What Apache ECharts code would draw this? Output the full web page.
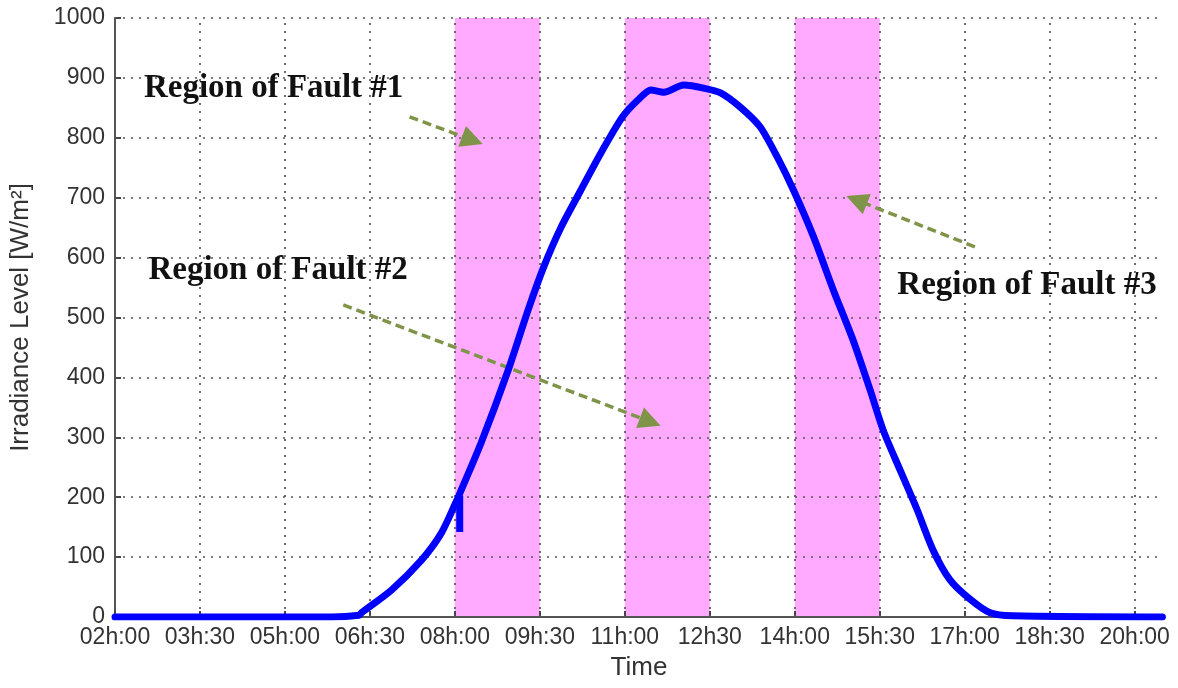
<!DOCTYPE html>
<html><head><meta charset="utf-8">
<script src="https://cdn.jsdelivr.net/npm/echarts@6/dist/echarts.min.js"></script>
<style>html,body{margin:0;padding:0;background:#fff}#c{width:1178px;height:688px}</style>
</head><body><div id="c"></div>
<script>
// ---- data ----
const tickLabels = ['02h:00','03h:30','05h:00','06h:30','08h:00','09h:30','11h:00','12h30','14h:00','15h:30','17h:00','18h:30','20h:00'];
const timeHours = [2.0, 5.82, 6.31, 6.35, 6.88, 7.41, 7.76, 8.02, 8.09, 8.46, 8.94, 9.29, 9.57, 9.87, 10.22, 10.58, 10.96, 11.23, 11.46, 11.69, 12.04, 12.39, 12.69, 13.04, 13.39, 13.69, 13.98, 14.33, 14.68, 15.03, 15.33, 15.56, 15.86, 16.16, 16.44, 16.74, 17.09, 17.45, 17.85, 20.49];
const irradiance = [0, 0, 3, 7, 45, 95, 140, 192, 207, 290, 412, 512, 585, 650, 712, 775, 835, 863, 880, 876, 888, 883, 875, 851, 818, 768, 712, 635, 546, 462, 379, 312, 245, 179, 112, 62, 30, 7, 2, 0];
// sudden drop (fault) just after 08h:00
const dipTime = [8.085, 8.085];
const dipValues = [203, 142];
const faultRegions = [[8.0, 9.5], [11.0, 12.5], [14.0, 15.5]];
const yTicks = [100, 200, 300, 400, 500, 600, 700, 800, 900, 1000];
const annotationTexts = ['Region of Fault #1', 'Region of Fault #2', 'Region of Fault #3'];
const annotationPos = [[4.80, 883], [4.88, 578], [18.10, 554]];
const arrowFrom = [[7.20, 835], [6.03, 521], [17.18, 618]];
const arrowTo = [[8.31, 796], [11.45, 326], [15.09, 696]];
const START_HOUR = 2;     // axis origin 02h:00
const END_HOUR = 20.5;
const TICK_STEP_MIN = 90;

// ---- build ----
const toMin = h => Math.round((h - START_HOUR) * 6000) / 100;
const xTickValues = tickLabels.map((_, i) => i * TICK_STEP_MIN);
const lineData = timeHours.map((h, i) => [toMin(h), irradiance[i]]);
const dipData = dipTime.map((h, i) => [toMin(h), dipValues[i]]);

const gridLines = [];
xTickValues.slice(1).forEach(v => gridLines.push({ xAxis: v }));
yTicks.forEach(v => gridLines.push({ yAxis: v }));

const blueLine = { color: '#0000ff', width: 7, join: 'round', cap: 'round' };

const chart = echarts.init(document.getElementById('c'));
chart.setOption({
  animation: false,
  backgroundColor: '#fff',
  grid: { left: 113, right: 15, top: 18, bottom: 71, containLabel: false },
  xAxis: {
    type: 'value', min: 0, max: toMin(END_HOUR), interval: TICK_STEP_MIN, z: 4,
    axisLine: { show: true, lineStyle: { color: '#555', width: 2 } },
    axisTick: { show: true, inside: true, length: 6, lineStyle: { color: '#444', width: 2 }, customValues: xTickValues },
    axisLabel: {
      customValues: xTickValues,
      margin: 9, fontSize: 23, color: '#333', fontFamily: 'Liberation Sans',
      formatter: v => (v % TICK_STEP_MIN === 0 && v / TICK_STEP_MIN < tickLabels.length) ? tickLabels[v / TICK_STEP_MIN] : ''
    },
    splitLine: { show: false },
    name: 'Time', nameLocation: 'middle', nameGap: 38,
    nameTextStyle: { fontSize: 26, color: '#333', fontFamily: 'Liberation Sans' }
  },
  yAxis: {
    type: 'value', min: 0, max: 1000, interval: 100, z: 4,
    axisLine: { show: true, lineStyle: { color: '#555', width: 2 } },
    axisTick: { show: true, inside: true, length: 6, lineStyle: { color: '#444', width: 2 } },
    axisLabel: { margin: 10, fontSize: 23, color: '#333', fontFamily: 'Liberation Sans', formatter: v => String(v) },
    splitLine: { show: false },
    name: 'Irradiance Level [W/m²]', nameLocation: 'middle', nameGap: 81,
    nameTextStyle: { fontSize: 26, color: '#333', fontFamily: 'Liberation Sans' }
  },
  series: [
    {
      type: 'line', data: [], z: 1, silent: true,
      markArea: {
        silent: true, itemStyle: { color: '#ffaaff' },
        data: faultRegions.map(([a, b]) => [{ xAxis: toMin(a) }, { xAxis: toMin(b) }])
      }
    },
    {
      type: 'line', data: [], z: 2, silent: true,
      markLine: {
        silent: true, symbol: ['none', 'none'], label: { show: false },
        lineStyle: { color: '#555', type: [2, 6], width: 1.7, opacity: 1 },
        emphasis: { disabled: true },
        data: gridLines
      }
    },
    {
      type: 'line', data: lineData, z: 5, showSymbol: false, clip: true, silent: true,
      smooth: 0.25,
      lineStyle: blueLine,
      itemStyle: { color: '#0000ff' }
    },
    {
      type: 'line', data: dipData, z: 5, showSymbol: false, clip: true, silent: true,
      lineStyle: { color: '#0000ff', width: 7, cap: 'butt' },
      itemStyle: { color: '#0000ff' }
    },
    {
      type: 'line', data: [], z: 6, silent: true,
      markLine: {
        silent: true, symbol: ['none', 'triangle'], symbolSize: 22, label: { show: false },
        lineStyle: { color: '#7f9448', type: [9, 5], width: 3.5, opacity: 1 },
        itemStyle: { color: '#6f8a35' },
        emphasis: { disabled: true },
        data: arrowFrom.map((f, i) => [
          { coord: [toMin(f[0]), f[1]] },
          { coord: [toMin(arrowTo[i][0]), arrowTo[i][1]] }
        ])
      },
      markPoint: {
        silent: true, symbol: 'circle', symbolSize: 1,
        itemStyle: { color: 'rgba(0,0,0,0)' },
        label: {
          show: true, position: 'inside', formatter: p => p.name,
          fontFamily: 'Liberation Serif', fontWeight: 'bold', fontSize: 33, color: '#111'
        },
        data: annotationTexts.map((t, i) => ({ name: t, coord: [toMin(annotationPos[i][0]), annotationPos[i][1]] }))
      }
    }
  ]
});
</script></body></html>
